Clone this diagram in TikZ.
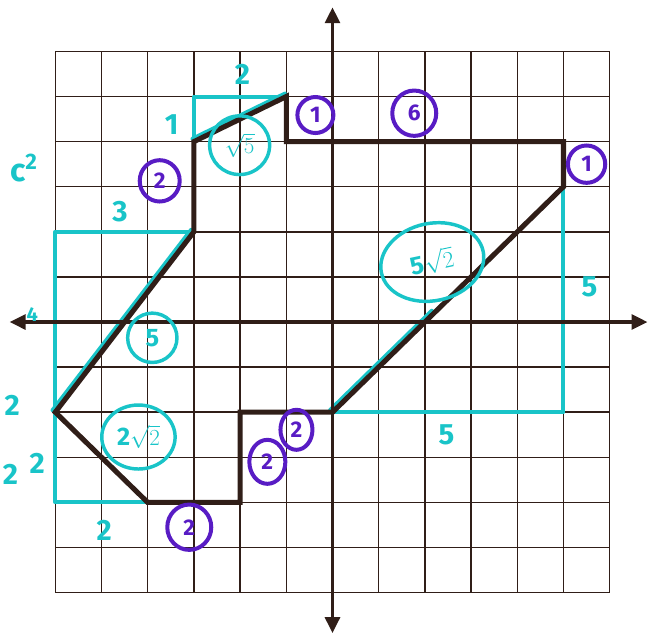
\documentclass[tikz,border=0pt]{standalone}
\usepackage{fontspec}
\setmainfont{Fira Sans}
\usetikzlibrary{arrows.meta,shapes.geometric}
\definecolor{ink}{RGB}{48,30,24}
\definecolor{aqua}{RGB}{25,196,200}
\definecolor{grape}{RGB}{88,28,196}
\begin{document}
\begin{tikzpicture}[x=34.65pt,y=33.825pt,
  gridline/.style={ink, line width=1.1pt},
  axisline/.style={ink, line width=2.8pt, {Triangle[length=12pt,width=11pt]}-{Triangle[length=12pt,width=11pt]}},
  outline/.style={ink, line width=3.8pt, line join=miter, line cap=round},
  aq/.style={aqua, line width=3pt, line cap=round, line join=round},
  aqlabel/.style={text=aqua, font=\fontsize{22}{22}\selectfont\bfseries, inner sep=0pt},
  aqring/.style={draw=aqua, line width=2.6pt, ellipse, inner sep=0pt, text=aqua, font=\fontsize{19}{19}\selectfont\bfseries},
  pring/.style={draw=grape, line width=3pt, ellipse, inner sep=0pt, text=grape, font=\fontsize{17}{17}\selectfont\bfseries}
]
\path[use as bounding box] (-7.197,-6.918) rectangle (6.851,7.140);
\clip (-7.197,-6.918) rectangle (6.851,7.140);

% grid (12 x 12 cells)
\foreach \k in {-6,...,6} {
  \draw[gridline] (\k,-6) -- (\k,6);
  \draw[gridline] (-6,\k) -- (6,\k);
}

% polygon vertices
\coordinate (A) at (0,-2);
\coordinate (B) at (5,3);
\coordinate (C) at (5,4);
\coordinate (D) at (-1,4);
\coordinate (E) at (-1,5);
\coordinate (F) at (-3,4);
\coordinate (G) at (-3,2);
\coordinate (H) at (-6,-2);
\coordinate (I) at (-4,-4);
\coordinate (J) at (-2,-4);
\coordinate (K) at (-2,-2);
\coordinate (P) at (-3,5);
\coordinate (Q) at (-6,2);
\coordinate (R) at (-6,-4);
\coordinate (S) at (5,-2);
\coordinate (M) at (2.2,0.2);

% cyan right-triangle legs
\draw[aq] (F) -- (P) -- (E);
\draw[aq] (G) -- (Q) -- (R) -- (I);
\draw[aq] (A) -- (S) -- (B);
% cyan hypotenuses peeking out beside the black ones
\draw[aq] ([shift={(-0.03,0.065)}]F) -- ([shift={(-0.03,0.065)}]E);
\draw[aq] ([shift={(-0.06,0.045)}]G) -- ([shift={(-0.06,0.045)}]H);
\draw[aq] ([shift={(-0.05,0.05)}]A) -- ([shift={(-0.05,0.05)}]M);

% axes
\coordinate (xl) at (-6.99,0);
\coordinate (xr) at (6.82,0);
\coordinate (yb) at (0,-6.9);
\coordinate (yt) at (0,6.98);
\draw[axisline] (xl) -- (xr);
\draw[axisline] (yb) -- (yt);

% black polygon
\draw[outline] (A) -- (B) -- (C) -- (D) -- (E) -- (F) -- (G) -- (H) -- (I) -- (J) -- (K) -- cycle;

% cyan labels
\node[aqlabel] (l2top) at (-1.95,5.5) {2};
\node[aqlabel] (l1) at (-3.48,4.37) {1};
\node[aqlabel] (l3) at (-4.6,2.44) {3};
\node[aqlabel, font=\fontsize{15}{15}\selectfont\bfseries] (l4) at (-6.5,0.16) {4};
\node[aqlabel] (l5r) at (5.56,0.78) {5};
\node[aqlabel] (l5b) at (2.47,-2.5) {5};
\node[aqlabel] (l2b) at (-4.94,-4.61) {2};
\node[aqlabel, font=\fontsize{24}{24}\selectfont\bfseries] (csq) at (-6.68,3.42) {c\textsuperscript{2}};
\node[aqlabel] (lm1) at (-6.93,-1.84) {2};
\node[aqlabel] (lm2) at (-6.39,-3.13) {2};
\node[aqlabel] (lm3) at (-6.97,-3.38) {2};

\node[aqring, minimum width=45pt, minimum height=44pt] (rt5) at (-2.01,3.92) {$\sqrt{5}$};
\node[aqring, minimum width=78pt, minimum height=58pt, rotate=12] (r5rt2) at (2.16,1.33) {5$\sqrt{2}$};
\node[aqring, minimum width=55pt, minimum height=48pt] (r2rt2) at (-4.2,-2.55) {2$\sqrt{2}$};
\node[aqring, minimum width=37pt, minimum height=37pt] (r5) at (-3.9,-0.35) {5};

% purple circled lengths
\node[pring, minimum width=27pt, minimum height=27pt] (p1a) at (-0.37,4.59) {1};
\node[pring, minimum width=33pt, minimum height=34pt] (p6) at (1.77,4.63) {6};
\node[pring, minimum width=28pt, minimum height=28pt] (p1b) at (5.5,3.5) {1};
\node[pring, minimum width=30pt, minimum height=31pt] (p2a) at (-3.74,3.13) {2};
\node[pring, minimum width=33pt, minimum height=34pt] (p2b) at (-3.1,-4.55) {2};
\node[pring, minimum width=27pt, minimum height=33pt] (p2c) at (-1.41,-3.1) {2};
\node[pring, minimum width=24pt, minimum height=30pt] (p2d) at (-0.78,-2.39) {2};
\end{tikzpicture}
\end{document}
